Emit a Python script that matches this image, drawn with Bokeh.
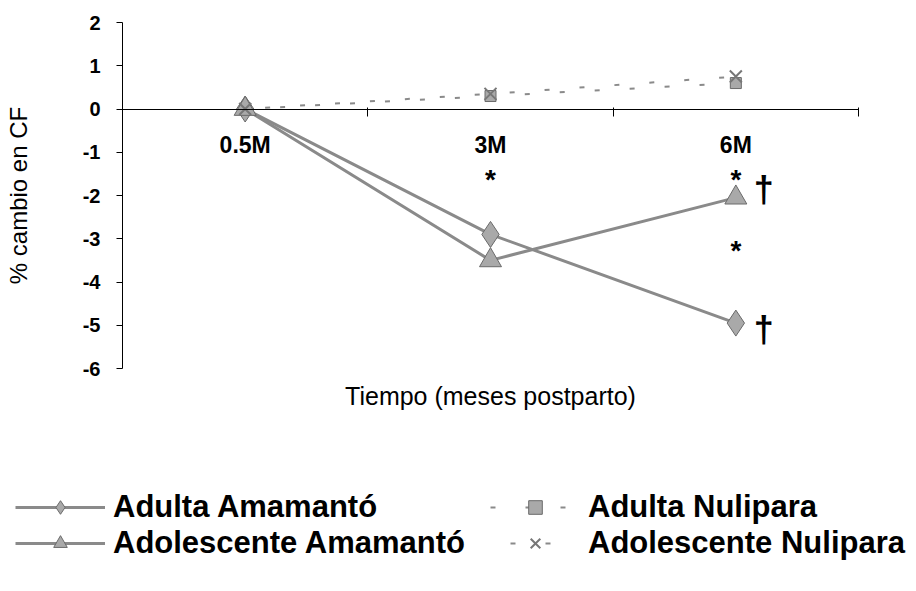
import numpy as np
from bokeh.plotting import figure
from bokeh.models import (LinearAxis, FixedTicker, Range1d, Label, Legend, LegendItem)
from bokeh.core.properties import value
from bokeh.embed import file_html
from bokeh.resources import INLINE

# ---------------- data ----------------
months = ["0.5M", "3M", "6M"]
adulta_amamanto = [0.0, -2.9, -4.95]
adolescente_amamanto = [0.0, -3.5, -2.05]
adulta_nulipara = [0.0, 0.3, 0.6]
adolescente_nulipara = [0.0, 0.35, 0.75]
y_ticks = [-6, -5, -4, -3, -2, -1, 0, 1, 2]

star_months = ["3M", "6M", "6M"]
star_values = [-1.6, -1.6, -3.25]
dagger_months = ["6M", "6M"]
dagger_values = [-1.85, -5.1]

series_names = ["Adulta Amamantó", "Adulta Nulipara",
                "Adolescente Amamantó", "Adolescente Nulipara"]

# ---------------- layout (pixels) ----------------
W, H = 908, 575
AX_L, AX_R, AX_T, AX_B = 122, 858, 22, 368     # plot-area box in pixels
FONT = "Liberation Sans"

n = len(months)
x = [i + 0.5 for i in range(n)]
xmap = dict(zip(months, x))
y_lo, y_hi = min(y_ticks), max(y_ticks)

kx = (AX_R - AX_L) / n
ky = (AX_B - AX_T) / (y_hi - y_lo)
x_range = Range1d(0 - AX_L / kx, n + (W - AX_R) / kx)
y_range = Range1d(y_lo - (H - AX_B) / ky, y_hi + AX_T / ky)

p = figure(width=W, height=H, output_backend="svg", toolbar_location=None,
           x_range=x_range, y_range=y_range,
           x_axis_location=None, y_axis_location=None,
           min_border=0, min_border_left=0, min_border_right=0,
           min_border_top=0, min_border_bottom=0)
p.grid.visible = False
p.outline_line_color = None
p.background_fill_color = "white"
p.border_fill_color = "white"

# y axis at x = 0
yax = LinearAxis(fixed_location=0, bounds=(y_lo, y_hi),
                 ticker=FixedTicker(ticks=y_ticks),
                 major_label_overrides={t: str(t) for t in y_ticks})
yax.minor_tick_line_color = None
yax.major_tick_in = 0
yax.major_tick_out = 6
yax.major_tick_line_color = "black"
yax.axis_line_color = "black"
yax.major_label_text_font = FONT
yax.major_label_text_font_size = "20px"
yax.major_label_text_font_style = "bold"
yax.major_label_text_color = "black"
yax.major_label_standoff = 16
yax.axis_label = "% cambio en CF"
yax.axis_label_text_font = FONT
yax.axis_label_text_font_size = "24px"
yax.axis_label_text_font_style = "normal"
yax.axis_label_text_color = "black"
yax.axis_label_standoff = 48
p.add_layout(yax, "left")

# x axis at y = 0
xax = LinearAxis(fixed_location=0, bounds=(0, n),
                 ticker=FixedTicker(ticks=x, minor_ticks=list(range(n + 1))),
                 major_label_overrides={xi: m for xi, m in zip(x, months)})
xax.major_tick_in = 0
xax.major_tick_out = 0
xax.minor_tick_in = 2
xax.minor_tick_out = 7
xax.minor_tick_line_color = "black"
xax.axis_line_color = "black"
xax.major_label_text_font = FONT
xax.major_label_text_font_size = "23px"
xax.major_label_text_font_style = "bold"
xax.major_label_text_color = "black"
xax.major_label_standoff = 16
p.add_layout(xax, "below")

p.add_layout(Label(x=n / 2, y=H - 395, x_units="data", y_units="screen",
                   text="Tiempo (meses postparto)", text_font=FONT,
                   text_font_size="25px", text_color="black",
                   text_align="center", text_baseline="middle"))

LINE = "#8a8a8a"
FILL = "#a9a9a9"
EDGE = "#6a6a6a"
STYLES = [
    dict(line=dict(line_color=LINE, line_width=3),
         marker=dict(marker="diamond", size=26, fill_color=FILL, line_color=EDGE, line_width=1)),
    dict(line=dict(line_color=LINE, line_width=2, line_dash="5 30"),
         marker=dict(marker="square", size=11, fill_color=FILL, line_color=EDGE, line_width=1)),
    dict(line=dict(line_color=LINE, line_width=3),
         marker=dict(marker="triangle", size=22, fill_color=FILL, line_color=EDGE, line_width=1)),
    dict(line=dict(line_color=LINE, line_width=2, line_dash="5 30", line_dash_offset=15),
         marker=dict(marker="x", size=17, line_color="#777777", line_width=2)),
]
series_values = [adulta_amamanto, adulta_nulipara, adolescente_amamanto, adolescente_nulipara]

items = []
for name, vals, st in zip(series_names, series_values, STYLES):
    lr = p.line(x, vals, **st["line"])
    mr = p.scatter(x, vals, **st["marker"])
    items.append(LegendItem(label=name, renderers=[lr, mr]))

p.text(x=[xmap[m] for m in star_months], y=star_values, text=["*"] * len(star_values),
       text_font=value(FONT), text_font_size="28px", text_font_style="bold",
       text_align="center", text_baseline="middle", y_offset=1, text_color="black")
p.text(x=[xmap[m] for m in dagger_months], y=dagger_values, text=["†"] * len(dagger_values),
       text_font=value(FONT), text_font_size="36px", text_font_style="bold",
       text_align="center", text_baseline="middle", x_offset=28, text_color="black")

legend = Legend(items=items, location=(15, 14), orientation="horizontal", ncols=2,
                glyph_width=90, glyph_height=34, label_standoff=8, label_width=377,
                label_text_font=FONT, label_text_font_size="31px",
                label_text_font_style="bold", label_text_color="black",
                padding=0, margin=0, spacing=0, border_line_color=None,
                background_fill_alpha=0)
p.add_layout(legend, "center")

open("out.html", "w").write(file_html(p, INLINE))
